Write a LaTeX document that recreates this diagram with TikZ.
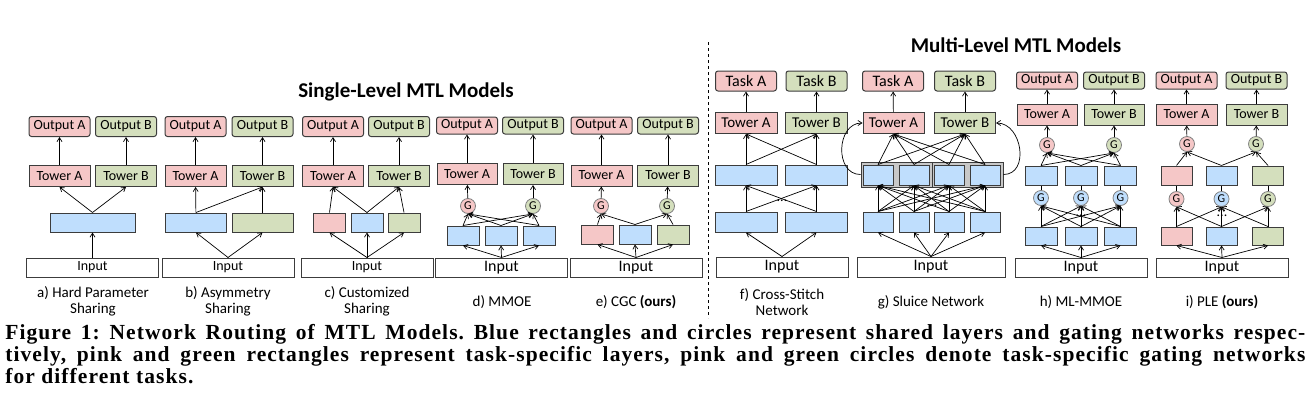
\documentclass[tikz,border=0pt]{standalone}
\usepackage{fontspec}
\setmainfont{Carlito}
\newfontfamily\capfont[LetterSpace=5]{Liberation Serif}
\usetikzlibrary{positioning,arrows.meta}
\definecolor{tska}{RGB}{245,199,199}
\definecolor{tskb}{RGB}{212,223,189}
\definecolor{shr}{RGB}{191,222,253}
\definecolor{grp}{RGB}{200,200,200}
\definecolor{edg}{RGB}{60,60,60}

\begin{document}
\begin{tikzpicture}[x=1pt,y=-1pt,font=\fontsize{14}{16}\selectfont,>={Straight Barb[length=4pt,width=5pt]},line width=0.7pt,
  box/.style={draw=edg,line width=1pt,inner sep=0pt,minimum height=19pt},
  outa/.style={box,rounded corners=2.5pt,fill=tska,minimum width=61pt,minimum height=20pt},
  outb/.style={box,rounded corners=2.5pt,fill=tskb,minimum width=61pt,minimum height=20pt},
  twra/.style={box,fill=tska,minimum width=61pt,minimum height=21pt},
  twrb/.style={box,fill=tskb,minimum width=61pt,minimum height=21pt},
  lay/.style={box,fill=#1,minimum width=32pt},lay/.default=shr,
  grpbox/.style={draw=edg,line width=1pt,fill=grp,minimum width=71pt,minimum height=25pt,inner sep=0pt},
  inp/.style={box,fill=white,minimum width=132pt},
  inpl/.style={inp,font=\fontsize{16}{16}\selectfont},
  gate/.style={circle,draw=gray,line width=0.8pt,fill=#1,minimum size=15pt,inner sep=0pt,font=\fontsize{12}{12}\selectfont},gate/.default=shr,
  subcap/.style={align=center,font=\fontsize{15}{16}\selectfont},
  ttl/.style={font=\fontsize{21}{21}\selectfont\bfseries}]
  \useasboundingbox (0,0) rectangle (1311,410);
  \node[ttl] (sTitle) at (406,92) {Single-Level MTL Models};
  \node[ttl] (mTitle) at (1016,45) {Multi-Level MTL Models};
  \draw[dashed,line width=0.8pt] (708,42)--(708,318);
  % a) hard parameter sharing
  \node[outa] (aOA) at (59.5,126.5) {Output A};
  \node[outb] (aOB) at (126,126.5) {Output B};
  \node[twra] (aTA) at (59.5,176) {Tower A};
  \node[twrb] (aTB) at (126,176) {Tower B};
  \node[lay,minimum width=85pt] (aS) at (92.5,222.5) {};
  \node[inp] (aIn) at (92.5,267.5) {Input};
  \node[subcap] (aCap) at (93,301) {a) Hard Parameter\\Sharing};
  \draw[->] (aIn)--(aS);
  \draw[->] (aS.north)--(aTA.south); \draw[->] (aS.north)--(aTB.south);
  \draw[->] (aTA)--(aOA); \draw[->] (aTB)--(aOB);
  % b) asymmetry sharing
  \node[outa] (bOA) at (195.5,126.5) {Output A};
  \node[outb] (bOB) at (262.5,126.5) {Output B};
  \node[twra] (bTA) at (195.5,176) {Tower A};
  \node[twrb] (bTB) at (262.5,176) {Tower B};
  \node[lay,minimum width=61pt] (bS) at (196,222.5) {};
  \node[lay=tskb,minimum width=61pt] (bG) at (262.5,222.5) {};
  \node[inp] (bIn) at (228,267.5) {Input};
  \node[subcap] (bCap) at (228,301) {b) Asymmetry\\Sharing};
  \draw[->] (bIn.north)--(bS.south); \draw[->] (bIn.north)--(bG.south);
  \draw[->] (bS)--(bTA); \draw[->] (bS.north)--(bTB.south); \draw[->] (bG)--(bTB);
  \draw[->] (bTA)--(bOA); \draw[->] (bTB)--(bOB);
  % c) customized sharing
  \node[outa] (cOA) at (333,126.5) {Output A};
  \node[outb] (cOB) at (399,126.5) {Output B};
  \node[twra] (cTA) at (333,176) {Tower A};
  \node[twrb] (cTB) at (399,176) {Tower B};
  \node[lay=tska] (cP) at (329.5,222.5) {};
  \node[lay] (cS) at (367,222.5) {};
  \node[lay=tskb] (cG) at (404,222.5) {};
  \node[inp] (cIn) at (367,267.5) {Input};
  \node[subcap] (cCap) at (367,301) {c) Customized\\Sharing};
  \foreach \b in {cP,cS,cG} \draw[->] (cIn.north)--(\b.south);
  \draw[->] (cP.north)--(cTA.south); \draw[->] (cS.north)--(cTA.south);
  \draw[->] (cS.north)--(cTB.south); \draw[->] (cG.north)--(cTB.south);
  \draw[->] (cTA)--(cOA); \draw[->] (cTB)--(cOB);
  % d) MMOE
  \node[outa,minimum height=17pt] (dOA) at (467,125.5) {Output A};
  \node[outb,minimum height=17pt] (dOB) at (533,125.5) {Output B};
  \node[twra,minimum width=60pt] (dTA) at (467,174) {Tower A};
  \node[twrb,minimum width=60pt] (dTB) at (533,174) {Tower B};
  \node[gate=tska] (dGA) at (468,206) {G};
  \node[gate=tskb] (dGB) at (533,206) {G};
  \node[lay] (dE1) at (463,235.5) {};
  \node[lay] (dE2) at (501,235.5) {};
  \node[lay] (dE3) at (539,235.5) {};
  \node[inpl] (dIn) at (501.5,267.5) {Input};
  \node[subcap] (dCap) at (502,302) {d) MMOE};
  \foreach \e in {1,2,3}{
    \draw[->] (dIn.north)--(dE\e.south);
    \draw[->] (dE\e.north)--(dGA.south); \draw[->] (dE\e.north)--(dGB.south);}
  \draw[->] (dGA)--(dTA); \draw[->] (dGB)--(dTB);
  \draw[->] (dTA)--(dOA); \draw[->] (dTB)--(dOB);
  % e) CGC
  \node[outa,minimum height=17pt] (eOA) at (601.5,125.5) {Output A};
  \node[outb,minimum height=17pt] (eOB) at (668,125.5) {Output B};
  \node[twra] (eTA) at (601.5,175.5) {Tower A};
  \node[twrb] (eTB) at (668,175.5) {Tower B};
  \node[gate=tska] (eGA) at (601,206) {G};
  \node[gate=tskb] (eGB) at (667,206) {G};
  \node[lay=tska] (eP) at (597.5,234.5) {};
  \node[lay] (eS) at (635,234.5) {};
  \node[lay=tskb] (eG) at (673,234.5) {};
  \node[inpl] (eIn) at (636,267.5) {Input};
  \node[subcap] (eCap) at (636,302) {e) CGC \textbf{(ours)}};
  \foreach \b in {eP,eS,eG} \draw[->] (eIn.north)--(\b.south);
  \draw[->] (eP.north)--(eGA.south); \draw[->] (eS.north)--(eGA.south);
  \draw[->] (eS.north)--(eGB.south); \draw[->] (eG.north)--(eGB.south);
  \draw[->] (eGA)--(eTA); \draw[->] (eGB)--(eTB);
  \draw[->] (eTA)--(eOA); \draw[->] (eTB)--(eOB);
  % f) cross-stitch network
  \node[outa,font=\fontsize{16}{16}\selectfont] (fKA) at (746,81) {Task A};
  \node[outb,font=\fontsize{16}{16}\selectfont] (fKB) at (816.5,81) {Task B};
  \node[twra,minimum width=62pt,font=\fontsize{15}{16}\selectfont] (fTA) at (746,123) {Tower A};
  \node[twrb,minimum width=62pt,font=\fontsize{15}{16}\selectfont] (fTB) at (816.5,123) {Tower B};
  \node[lay,minimum width=62pt,minimum height=20pt] (fU1) at (746,175) {};
  \node[lay,minimum width=62pt,minimum height=20pt] (fU2) at (816.5,175) {};
  \node[lay,minimum width=62pt,minimum height=20pt] (fL1) at (746,222) {};
  \node[lay,minimum width=62pt,minimum height=20pt] (fL2) at (816.5,222) {};
  \node[inpl,minimum height=20pt] (fIn) at (782,267) {Input};
  \node (fDots) at (782,201) {...};
  \node[subcap] (fCap) at (782,302) {f) Cross-Stitch\\Network};
  \foreach \i in {1,2}{
    \draw[->] (fIn.north)--(fL\i.south);
    \foreach \j in {1,2} \draw[->] (fL\i.north)--(fU\j.south);
    \draw[->] (fU\i.north)--(fTA.south); \draw[->] (fU\i.north)--(fTB.south);}
  \draw[->] (fTA)--(fKA); \draw[->] (fTB)--(fKB);
  % g) sluice network
  \node[outa,font=\fontsize{16}{16}\selectfont] (gKA) at (893,81) {Task A};
  \node[outb,font=\fontsize{16}{16}\selectfont] (gKB) at (965,81) {Task B};
  \node[twra,font=\fontsize{15}{16}\selectfont] (gTA) at (893.5,123) {Tower A};
  \node[twrb,font=\fontsize{15}{16}\selectfont] (gTB) at (965,123) {Tower B};
  \node[grpbox] (gGrp1) at (896.5,174.5) {};
  \node[grpbox] (gGrp2) at (967.5,174.5) {};
  \foreach \i/\x in {1/878,2/914,3/949,4/985}{
    \node[lay,minimum width=30pt,minimum height=20pt] (gU\i) at (\x,175) {};
    \node[lay,minimum width=30pt,minimum height=20pt] (gL\i) at (\x,222) {};}
  \node[inpl,minimum width=148pt,minimum height=20pt] (gIn) at (931,267) {Input};
  \node (gDots) at (932,206) {...};
  \node[subcap] (gCap) at (931,302) {g) Sluice Network};
  \foreach \i in {1,...,4}{
    \draw[->] (gIn.north)--(gL\i.south);
    \foreach \j in {1,...,4} \draw[->] (gL\i.north)--(gU\j.south);
    \draw[->] (gU\i.north)--(gTA.south); \draw[->] (gU\i.north)--(gTB.south);}
  \draw[->] (gGrp1.west) to[out=180,in=180,looseness=1.3] (gTA.west);
  \draw[->] (gGrp2.east) to[out=0,in=0,looseness=1.3] (gTB.east);
  \draw[->] (gTA)--(gKA); \draw[->] (gTB)--(gKB);
  % h) ML-MMOE
  \node[outa,minimum height=17pt] (hOA) at (1047,80.5) {Output A};
  \node[outb,minimum height=17pt] (hOB) at (1114,80.5) {Output B};
  \node[twra,minimum width=60pt] (hTA) at (1047,114.5) {Tower A};
  \node[twrb,minimum width=60pt] (hTB) at (1114,114.5) {Tower B};
  \node[gate=tska] (hGA) at (1047,145) {G};
  \node[gate=tskb] (hGB) at (1114,145) {G};
  \foreach \i/\x in {1/1041,2/1081,3/1120.5}{
    \node[lay] (hU\i) at (\x,175.5) {};
    \node[gate] (hM\i) at (\x,198) {G};
    \node[lay,minimum height=18pt] (hL\i) at (\x,236) {};}
  \node[inpl] (hIn) at (1081,267.5) {Input};
  \node (hDots) at (1081,216) {...};
  \node[subcap] (hCap) at (1081,302) {h) ML-MMOE};
  \foreach \i in {1,2,3}{
    \draw[->] (hIn.north)--(hL\i.south);
    \foreach \j in {1,2,3} \draw[->] (hL\i.north)--(hM\j.south);
    \draw (hM\i)--(hU\i);
    \draw[->] (hU\i.north)--(hGA.south); \draw[->] (hU\i.north)--(hGB.south);}
  \draw[->] (hGA)--(hTA); \draw[->] (hGB)--(hTB);
  \draw[->] (hTA)--(hOA); \draw[->] (hTB)--(hOB);
  % i) PLE
  \node[outa,minimum height=17pt] (iOA) at (1186.5,80.5) {Output A};
  \node[outb,minimum height=17pt] (iOB) at (1256.5,80.5) {Output B};
  \node[twra] (iTA) at (1186.5,114.5) {Tower A};
  \node[twrb] (iTB) at (1256.5,114.5) {Tower B};
  \node[gate=tska] (iGA) at (1187,144) {G};
  \node[gate=tskb] (iGB) at (1256,144) {G};
  \foreach \i/\x/\c in {1/1176.5/tska,2/1221.5/shr,3/1268/tskb}{
    \node[lay=\c,minimum width=31pt] (iU\i) at (\x,175.5) {};
    \node[gate=\c] (iM\i) at (\x,199) {G};
    \node[lay=\c,minimum width=31pt,minimum height=18pt] (iL\i) at (\x,236) {};}
  \node[inpl] (iIn) at (1222,267.5) {Input};
  \node (iDots) at (1222,216) {...};
  \node[subcap] (iCap) at (1222,302) {i) PLE \textbf{(ours)}};
  \foreach \i in {1,2,3}{
    \draw[->] (iIn.north)--(iL\i.south);
    \draw (iM\i)--(iU\i);}
  \foreach \i/\j in {1/1,1/2,2/1,2/2,2/3,3/2,3/3} \draw[->] (iL\i.north)--(iM\j.south);
  \draw[->] (iU1.north)--(iGA.south); \draw[->] (iU2.north)--(iGA.south);
  \draw[->] (iU2.north)--(iGB.south); \draw[->] (iU3.north)--(iGB.south);
  \draw[->] (iGA)--(iTA); \draw[->] (iGB)--(iTB);
  \draw[->] (iTA)--(iOA); \draw[->] (iTB)--(iOB);
  % caption
  \node[anchor=north west,inner sep=0pt,text width=1300pt,align=justify,
    font=\capfont\bfseries\fontsize{21.5}{22.2}\selectfont\frenchspacing] (fig) at (5,324)
    {Figure 1: Network Routing of MTL Models. Blue rectangles and circles represent shared layers and gating networks respec-\linebreak tively, pink and green rectangles represent task-specific layers, pink and green circles denote task-specific gating networks\linebreak for different tasks.};
\end{tikzpicture}
\end{document}
